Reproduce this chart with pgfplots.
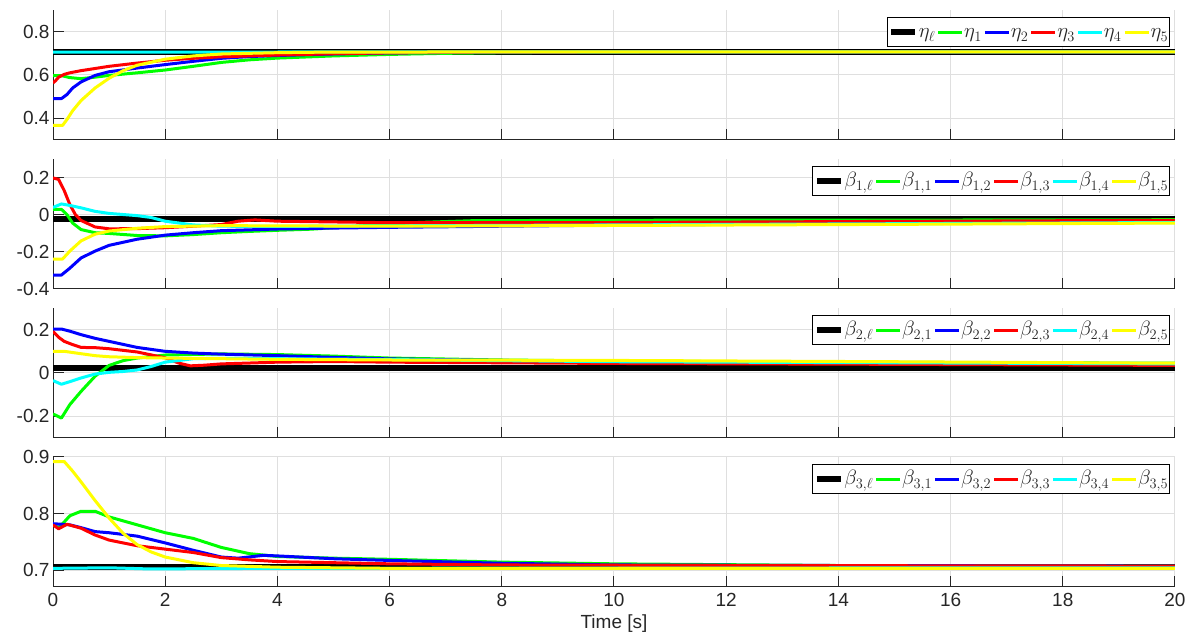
\documentclass[border=0pt]{standalone}
\usepackage{fontspec}
\setmainfont{Liberation Sans}
\usepackage{pgfplots}
\pgfplotsset{compat=1.18}

\definecolor{axgray}{RGB}{38,38,38}
\definecolor{gridgray}{RGB}{223,223,223}
\definecolor{cg}{RGB}{0,255,0}
\definecolor{cb}{RGB}{0,0,255}
\definecolor{cr}{RGB}{255,0,0}
\definecolor{cc}{RGB}{0,255,255}
\definecolor{cy}{RGB}{255,255,0}

\pgfplotsset{
  panel/.style={
    scale only axis, width=1122pt, height=130pt,
    xmin=0, xmax=20, xtick={0,2,...,20},
    axis lines*=left,
    axis line style={axgray, line width=1pt},
    tick style={axgray, line width=1pt},
    major tick length=11pt,
    tick align=inside,
    grid=major,
    major grid style={gridgray, line width=1pt},
    ticklabel style={font=\fontsize{19}{22}\selectfont, text=axgray},
    xticklabel style={yshift=-3pt},
    /pgf/number format/assume math mode=true,
    legend columns=6,
    legend style={at={(1,1)}, anchor=north east, xshift=-5pt, yshift=-7.5pt,
      draw=black, fill=white, line width=0.8pt, text=axgray,
      font=\fontsize{21}{24}\selectfont, inner xsep=1pt, inner ysep=2pt,
      nodes={inner xsep=0.5pt, inner ysep=1pt, text height=17pt, text depth=5.5pt},
      /tikz/every even column/.append style={column sep=1pt},
      /tikz/every odd column/.append style={column sep=0pt}},
    legend image code/.code={\draw[##1, line cap=butt] (0pt,0pt) -- (24pt,0pt);},
    every axis plot/.append style={line width=3pt, line join=round},
  },
  lead/.style={black, line width=6pt},
}

\begin{document}
\begin{tikzpicture}
\path[use as bounding box] (0,0) rectangle (1196pt,637pt);

% ---- eta ----
\begin{axis}[panel, at={(53pt,627pt)}, anchor=north west,
  ymin=0.3, ymax=0.9, ytick={0.4,0.6,0.8}, xticklabels={}]
\addplot[lead] coordinates {(0,0.707) (20,0.707)};
\addplot[cg] coordinates {(0,0.597) (0.15,0.597) (0.3,0.588) (0.5,0.583) (0.75,0.590) (1,0.598) (1.5,0.610) (2,0.623) (2.5,0.640) (3,0.658) (3.5,0.670) (4,0.678) (5,0.688) (6,0.695) (7,0.700) (8,0.703) (10,0.706) (14,0.707) (20,0.707)};
\addplot[cb] coordinates {(0,0.491) (0.15,0.491) (0.25,0.51) (0.35,0.54) (0.5,0.568) (0.75,0.598) (1,0.615) (1.5,0.632) (2,0.648) (2.5,0.663) (3,0.677) (3.5,0.685) (4,0.690) (5,0.697) (6,0.702) (8,0.706) (20,0.707)};
\addplot[cr] coordinates {(0,0.563) (0.05,0.575) (0.1,0.59) (0.2,0.603) (0.3,0.610) (0.5,0.620) (0.75,0.630) (1,0.640) (1.5,0.655) (2,0.668) (2.5,0.677) (3,0.684) (4,0.692) (5,0.698) (6,0.702) (8,0.706) (20,0.707)};
\addplot[cc] coordinates {(0,0.706) (2,0.706) (20,0.707)};
\addplot[cy] coordinates {(0,0.367) (0.17,0.367) (0.25,0.395) (0.35,0.435) (0.5,0.482) (0.75,0.540) (1,0.585) (1.25,0.620) (1.5,0.645) (2,0.673) (2.5,0.688) (3,0.697) (4,0.703) (5,0.706) (20,0.707)};
\legend{$\eta_\ell$,$\eta_1$,$\eta_2$,$\eta_3$,$\eta_4$,$\eta_5$}
\end{axis}

% ---- beta_1 ----
\begin{axis}[panel, at={(53pt,478pt)}, anchor=north west,
  ymin=-0.4, ymax=0.3, ytick={-0.4,-0.2,0,0.2}, xticklabels={}]
\addplot[lead] coordinates {(0,-0.022) (20,-0.022)};
\addplot[cg] coordinates {(0,0.029) (0.15,0.029) (0.25,0.0) (0.35,-0.045) (0.5,-0.08) (0.75,-0.097) (1,-0.101) (1.5,-0.112) (2,-0.114) (2.5,-0.107) (3,-0.097) (3.5,-0.09) (4,-0.084) (4.6,-0.078) (5.5,-0.06) (6.5,-0.042) (7.5,-0.032) (10,-0.030) (15,-0.029) (20,-0.027)};
\addplot[cb] coordinates {(0,-0.325) (0.15,-0.325) (0.3,-0.288) (0.5,-0.233) (0.75,-0.196) (1,-0.165) (1.5,-0.132) (2,-0.11) (2.5,-0.097) (3,-0.086) (4,-0.077) (5,-0.072) (6,-0.068) (8,-0.062) (10,-0.056) (14,-0.048) (20,-0.04)};
\addplot[cr] coordinates {(0,0.198) (0.1,0.19) (0.2,0.13) (0.3,0.055) (0.4,0.0) (0.5,-0.031) (0.75,-0.066) (1,-0.076) (1.5,-0.075) (2,-0.07) (2.5,-0.062) (3,-0.053) (3.3,-0.035) (3.6,-0.028) (4,-0.035) (6,-0.043) (10,-0.042) (15,-0.036) (20,-0.030)};
\addplot[cc] coordinates {(0,0.039) (0.15,0.058) (0.3,0.05) (0.5,0.037) (0.75,0.018) (1,0.007) (1.5,-0.005) (1.75,-0.015) (2,-0.035) (2.5,-0.055) (3,-0.062) (4,-0.063) (6,-0.06) (10,-0.055) (20,-0.042)};
\addplot[cy] coordinates {(0,-0.239) (0.17,-0.239) (0.3,-0.196) (0.5,-0.141) (0.75,-0.105) (1,-0.088) (1.5,-0.073) (2,-0.064) (3,-0.059) (4,-0.060) (6,-0.062) (10,-0.058) (15,-0.052) (20,-0.045)};
\legend{$\beta_{1,\ell}$,$\beta_{1,1}$,$\beta_{1,2}$,$\beta_{1,3}$,$\beta_{1,4}$,$\beta_{1,5}$}
\end{axis}

% ---- beta_2 ----
\begin{axis}[panel, at={(53pt,329pt)}, anchor=north west,
  ymin=-0.3, ymax=0.3, ytick={-0.2,0,0.2}, xticklabels={}]
\addplot[lead] coordinates {(0,0.025) (20,0.025)};
\addplot[cg] coordinates {(0,-0.189) (0.15,-0.208) (0.3,-0.146) (0.5,-0.085) (0.75,-0.015) (1,0.035) (1.25,0.057) (1.5,0.069) (2,0.083) (3,0.088) (4,0.085) (5,0.078) (6,0.069) (8,0.06) (10,0.055) (14,0.05) (20,0.045)};
\addplot[cb] coordinates {(0,0.203) (0.15,0.203) (0.3,0.193) (0.5,0.177) (0.75,0.16) (1,0.146) (1.5,0.118) (2,0.1) (2.5,0.092) (3,0.087) (4,0.08) (5,0.072) (6,0.065) (8,0.058) (10,0.053) (14,0.047) (20,0.042)};
\addplot[cr] coordinates {(0,0.192) (0.1,0.165) (0.2,0.146) (0.35,0.131) (0.5,0.118) (0.75,0.117) (1,0.112) (1.5,0.097) (2,0.07) (2.25,0.045) (2.45,0.033) (2.7,0.036) (3,0.042) (3.5,0.046) (4,0.05) (5,0.053) (6,0.05) (8,0.047) (10,0.044) (15,0.04) (20,0.035)};
\addplot[cc] coordinates {(0,-0.035) (0.15,-0.052) (0.3,-0.04) (0.5,-0.023) (0.75,-0.005) (1,0.003) (1.25,0.007) (1.5,0.014) (1.75,0.03) (2,0.05) (2.5,0.066) (3,0.068) (4,0.066) (6,0.062) (10,0.052) (20,0.042)};
\addplot[cy] coordinates {(0,0.1) (0.2,0.1) (0.5,0.089) (0.75,0.08) (1,0.075) (1.5,0.071) (2,0.069) (3,0.066) (4,0.063) (6,0.06) (10,0.058) (15,0.052) (20,0.045)};
\legend{$\beta_{2,\ell}$,$\beta_{2,1}$,$\beta_{2,2}$,$\beta_{2,3}$,$\beta_{2,4}$,$\beta_{2,5}$}
\end{axis}

% ---- beta_3 ----
\begin{axis}[panel, at={(53pt,180pt)}, anchor=north west,
  ymin=0.67, ymax=0.9, ytick={0.7,0.8,0.9},
  xlabel={Time [s]},
  xlabel style={font=\fontsize{19}{22}\selectfont, text=axgray, yshift=-1pt}]
\addplot[lead] coordinates {(0,0.705) (20,0.705)};
\addplot[cg] coordinates {(0,0.78) (0.1,0.775) (0.2,0.785) (0.3,0.796) (0.5,0.804) (0.75,0.804) (1,0.794) (1.5,0.78) (2,0.766) (2.5,0.756) (3,0.74) (3.5,0.729) (4,0.724) (5,0.721) (6,0.719) (8,0.714) (10,0.711) (14,0.708) (20,0.707)};
\addplot[cb] coordinates {(0,0.782) (0.3,0.78) (0.5,0.775) (0.75,0.768) (1,0.766) (1.5,0.76) (2,0.748) (2.5,0.735) (3,0.723) (3.3,0.721) (3.75,0.726) (4,0.725) (5,0.72) (6,0.717) (8,0.712) (10,0.709) (14,0.708) (20,0.707)};
\addplot[cr] coordinates {(0,0.78) (0.1,0.773) (0.25,0.781) (0.5,0.774) (0.75,0.762) (1,0.753) (1.5,0.743) (2,0.737) (2.5,0.731) (3,0.722) (3.5,0.718) (4,0.715) (6,0.711) (8,0.709) (12,0.708) (20,0.707)};
\addplot[cc] coordinates {(0,0.703) (1,0.704) (1.7,0.702) (4,0.703) (20,0.704)};
\addplot[cy] coordinates {(0,0.892) (0.2,0.892) (0.35,0.875) (0.5,0.856) (0.75,0.823) (1,0.792) (1.25,0.765) (1.5,0.745) (1.75,0.732) (2,0.723) (2.5,0.713) (3,0.708) (4,0.705) (6,0.703) (20,0.703)};
\legend{$\beta_{3,\ell}$,$\beta_{3,1}$,$\beta_{3,2}$,$\beta_{3,3}$,$\beta_{3,4}$,$\beta_{3,5}$}
\end{axis}
\end{tikzpicture}
\end{document}
